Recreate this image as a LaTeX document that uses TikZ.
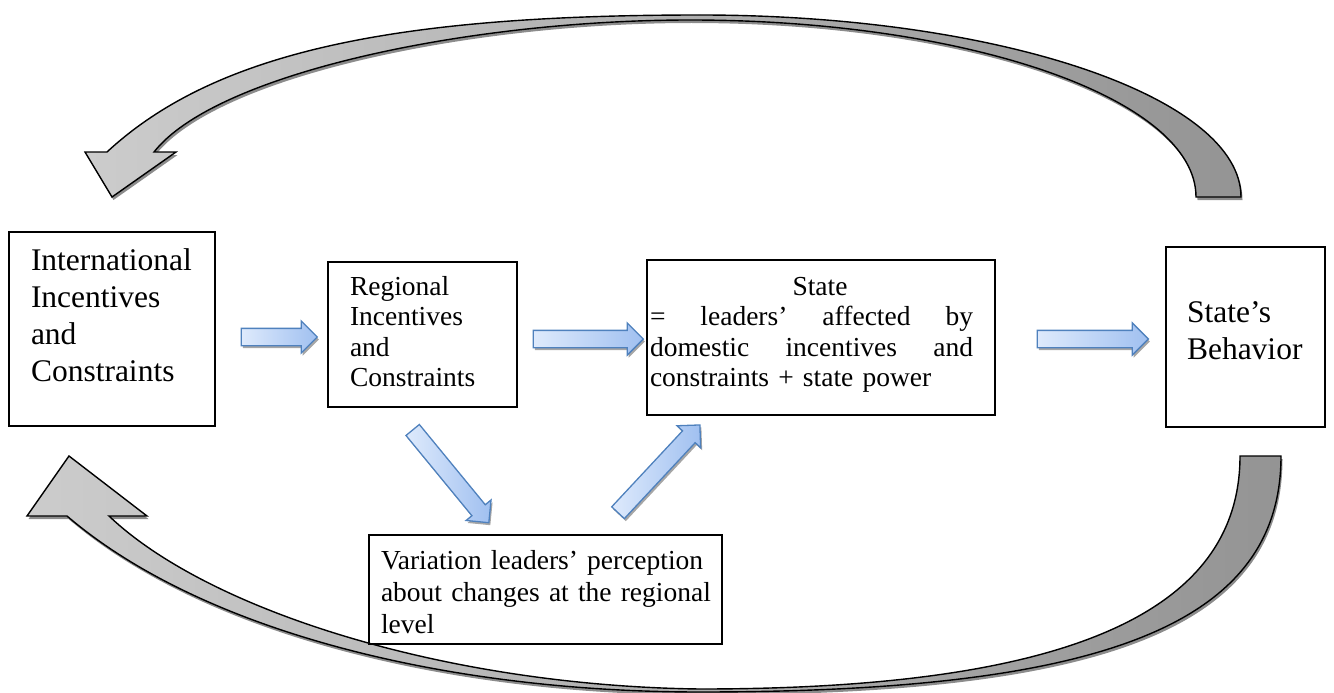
\documentclass[tikz,border=0pt]{standalone}
\usepackage{fontspec}
\setmainfont{Liberation Serif}
\usetikzlibrary{shapes.arrows,shadows}
\definecolor{blueL}{RGB}{222,234,252}
\definecolor{blueR}{RGB}{160,192,240}
\definecolor{blueEdge}{RGB}{79,129,189}
\definecolor{grayL}{RGB}{204,204,204}
\definecolor{grayD}{RGB}{148,148,148}
\newcommand\bigfnt{\fontsize{31.5pt}{37.3pt}\selectfont}
\newcommand\smallfnt{\fontsize{27.5pt}{30.5pt}\selectfont}
\newcommand\smallfntb{\fontsize{27.5pt}{32pt}\selectfont}
\begin{document}
\begin{tikzpicture}[x=1pt,y=-1pt,
  box/.style={draw=black, line width=1.1pt, inner sep=0pt, outer sep=0pt, anchor=north west},
  boxtext/.style={anchor=north west, inner sep=0pt, outer sep=0pt, align=left},
  blockarrow/.style={single arrow, draw=blueEdge, line width=1.3pt, left color=blueL, right color=blueR,
    single arrow head extend=7.5pt, single arrow tip angle=90,
    inner xsep=0pt, inner ysep=8pt, outer sep=0pt,
    drop shadow={shadow xshift=1.5pt, shadow yshift=-2.5pt, fill=black!35, opacity=1}},
  bigarrow/.style={draw=black, line width=1.4pt, left color=grayL, right color=grayD,
    drop shadow={shadow xshift=1.5pt, shadow yshift=-3pt, fill=black!45, opacity=1}}
]
\useasboundingbox (0,0) rectangle (1334,693);

% top curved arrow (from State's Behavior back to International)
\path[bigarrow] (154,152) -- (176,152) -- (112,197) -- (85,152) -- (107,152)
  .. controls (217,50) and (400,15) .. (700,15)
  .. controls (999,15) and (1241,97) .. (1241,197)
  -- (1196,197)
  .. controls (1196,99) and (969,20) .. (690,20)
  .. controls (470,20) and (216,73) .. (154,152) -- cycle;

% bottom curved arrow
\path[bigarrow] (109,516) -- (147,516) -- (69,456) -- (27,516) -- (67,516)
  .. controls (204,633) and (450,692) .. (700,692)
  .. controls (1100,692) and (1281,626) .. (1281,456)
  -- (1240,456)
  .. controls (1240,616) and (1060,689) .. (700,689)
  .. controls (450,686) and (210,612) .. (109,516) -- cycle;

% boxes
\node[box, minimum width=206pt, minimum height=194pt] (b1) at (9,232) {};
\node[box, minimum width=189pt, minimum height=145pt] (b2) at (328,262) {};
\node[box, minimum width=348pt, minimum height=155pt] (b3) at (647,260) {};
\node[box, minimum width=159pt, minimum height=180pt] (b4) at (1166,247) {};
\node[box, minimum width=353pt, minimum height=109pt] (b5) at (369,535) {};

% texts
\node[boxtext, font=\bigfnt, text width=180pt] (t1) at (31,245)
  {\rule{0pt}{25pt}International\\Incentives\\and\\Constraints};
\node[boxtext, font=\smallfnt, text width=160pt] (t2) at (350,273)
  {\rule{0pt}{22pt}Regional\\Incentives\\and\\Constraints};
\node[boxtext, font=\smallfnt, text width=323pt] (t3) at (650,273)
  {\rule{0pt}{22pt}\hspace*{142.5pt}State\\
   \makebox[323pt][s]{=\hfill leaders’\hfill affected\hfill by}\\
   \makebox[323pt][s]{domestic\hfill incentives\hfill and}\\
   constraints + state power};
\node[boxtext, font=\bigfnt, text width=135pt] (t4) at (1187,297)
  {\rule{0pt}{25pt}State’s\\Behavior};
\node[boxtext, font=\smallfntb, text width=335pt] (t5) at (381,547)
  {\rule{0pt}{22pt}Variation leaders’ perception\\about changes at the regional\\level};

% block arrows
\node[blockarrow, minimum height=76pt] (a1) at (275,337) {};
\node[blockarrow, minimum height=110pt] (a2) at (584,339) {};
\node[blockarrow, minimum height=111pt] (a3) at (1088.5,339) {};
\node[blockarrow, minimum height=120pt, rotate=-50.6] (a4) at (448,473) {};
\node[blockarrow, minimum height=120pt, rotate=47] (a5) at (656,472) {};
\end{tikzpicture}
\end{document}
